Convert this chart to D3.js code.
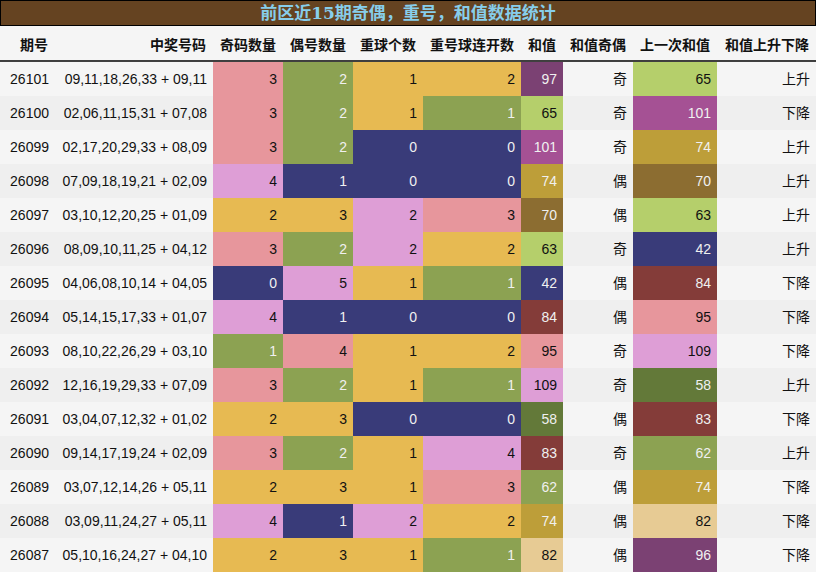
<!DOCTYPE html><html><head><meta charset="utf-8">
<script src="https://cdn.jsdelivr.net/npm/d3@7"></script>
<style>body{margin:0;background:#fff}svg text{font-family:"Liberation Sans","Noto Sans CJK SC",sans-serif}</style>
</head><body><svg id="c" width="816" height="573"></svg>
<script>
const title="前区近15期奇偶，重号，和值数据统计";
const headers=["期号","中奖号码","奇码数量","偶号数量","重球个数","重号球连开数","和值","和值奇偶","上一次和值","和值上升下降"];
const issues=["26101","26100","26099","26098","26097","26096","26095","26094","26093","26092","26091","26090","26089","26088","26087"];
const numbers=["09,11,18,26,33 + 09,11","02,06,11,15,31 + 07,08","02,17,20,29,33 + 08,09","07,09,18,19,21 + 02,09","03,10,12,20,25 + 01,09","08,09,10,11,25 + 04,12","04,06,08,10,14 + 04,05","05,14,15,17,33 + 01,07","08,10,22,26,29 + 03,10","12,16,19,29,33 + 07,09","03,04,07,12,32 + 01,02","09,14,17,19,24 + 02,09","03,07,12,14,26 + 05,11","03,09,11,24,27 + 05,11","05,10,16,24,27 + 04,10"];
const oddCount=[3,3,3,4,2,3,0,4,1,3,2,3,2,4,2];
const evenCount=[2,2,2,1,3,2,5,1,4,2,3,2,3,1,3];
const repeatCount=[1,1,0,0,2,2,1,0,1,1,0,1,1,2,1];
const repeatRun=[2,1,0,0,3,2,1,0,2,1,0,4,3,2,1];
const sums=[97,65,101,74,70,63,42,84,95,109,58,83,62,74,82];
const sumParity=["奇","奇","奇","偶","偶","奇","偶","偶","奇","奇","偶","奇","偶","偶","偶"];
const prevSums=[65,101,74,70,63,42,84,95,109,58,83,62,74,82,96];
const trend=["上升","下降","上升","上升","上升","上升","下降","下降","下降","上升","下降","上升","下降","下降","下降"];

const pal=d3.schemeCategory20b||["#393b79","#5254a3","#6b6ecf","#9c9ede","#637939","#8ca252","#b5cf6b","#cedb9c","#8c6d31","#bd9e39","#e7ba52","#e7cb94","#843c39","#ad494a","#d6616b","#e7969c","#7b4173","#a55194","#ce6dbd","#de9ed6"];
const oddCol={0:"#393b79",1:"#8ca252",2:"#e7ba52",3:"#e7969c",4:"#de9ed6"};
const evenCol={1:"#393b79",2:"#8ca252",3:"#e7ba52",4:"#e7969c",5:"#de9ed6"};
const repCol={0:"#393b79",1:"#e7ba52",2:"#de9ed6"};
const runCol={0:"#393b79",1:"#8ca252",2:"#e7ba52",3:"#e7969c",4:"#de9ed6"};
const sumCol={97:"#7b4173",96:"#7b4173",65:"#b5cf6b",63:"#b5cf6b",101:"#a55194",74:"#bd9e39",70:"#8c6d31",42:"#393b79",84:"#843c39",83:"#843c39",95:"#e7969c",109:"#de9ed6",58:"#637939",62:"#8ca252",82:"#e7cb94"};
const dark=new Set(["#393b79","#8ca252","#7b4173","#a55194","#bd9e39","#8c6d31","#843c39","#637939"]);

const colEdges=[0,55,213,283,353,423,521,563,633,717,816];
const svg=d3.select("#c");
const y=d3.scaleBand().domain(issues).range([62,572]);
const cols=[
 {v:issues},{v:numbers},{v:oddCount,c:oddCol},{v:evenCount,c:evenCol},{v:repeatCount,c:repCol},
 {v:repeatRun,c:runCol},{v:sums,c:sumCol},{v:sumParity},{v:prevSums,c:sumCol},{v:trend}];
// title
svg.append("rect").attr("x",0.5).attr("y",0.5).attr("width",815).attr("height",25).attr("fill","#654321").attr("stroke","#000");
svg.append("text").attr("x",408).attr("y",19).attr("text-anchor","middle").attr("fill","#87ceeb").attr("font-size",17).attr("font-weight","bold")
 .style("font-family","'DejaVu Serif','Noto Sans CJK SC',serif").text(title);
svg.append("rect").attr("x",0).attr("y",26).attr("width",816).attr("height",35).attr("fill","#f5f5f5");
headers.forEach((h,i)=>svg.append("text").attr("x",colEdges[i+1]-7).attr("y",50).attr("text-anchor","end").attr("font-size",14).attr("font-weight","bold").attr("fill","#111").text(h));
svg.append("line").attr("x1",0).attr("x2",816).attr("y1",61).attr("y2",61).attr("stroke","#000").attr("stroke-width",1.5);
issues.forEach((iss,r)=>{
 svg.append("rect").attr("x",0).attr("y",y(iss)).attr("width",816).attr("height",y.bandwidth()).attr("fill",r%2?"#efefef":"#f5f5f5");
 cols.forEach((col,ci)=>{
  const val=col.v[r];let fill=null;
  if(col.c){fill=col.c[val];svg.append("rect").attr("x",colEdges[ci]).attr("y",y(iss)).attr("width",colEdges[ci+1]-colEdges[ci]).attr("height",y.bandwidth()).attr("fill",fill);}
  svg.append("text").attr("x",colEdges[ci+1]-6).attr("y",y(iss)+y.bandwidth()/2+5).attr("text-anchor","end").attr("font-size",14)
   .attr("fill",fill&&dark.has(fill)?"#f0f0f0":"#111").text(val);
 });
});
</script></body></html>
